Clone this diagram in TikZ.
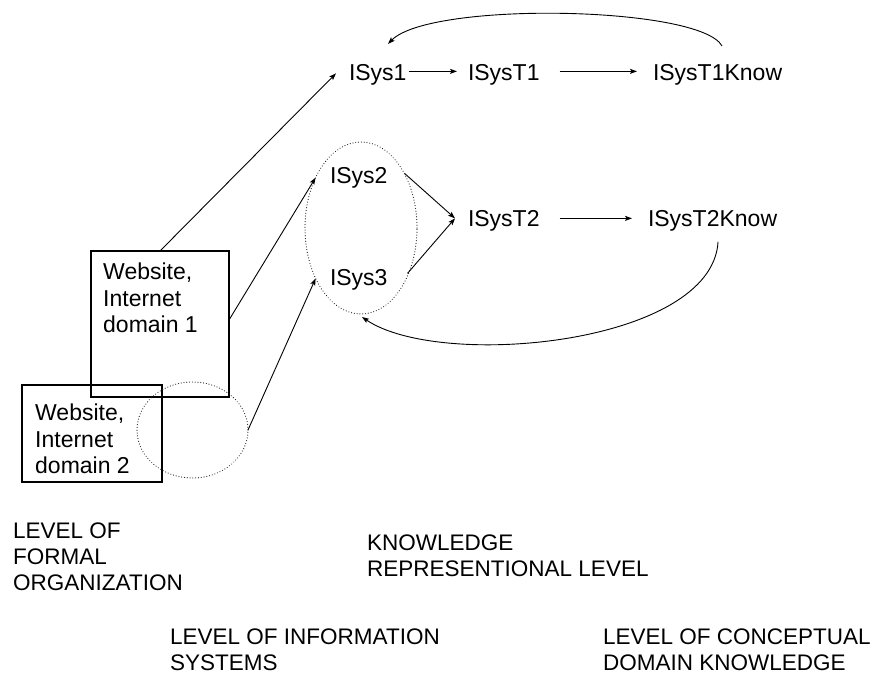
\documentclass[tikz,border=0pt]{standalone}
\usepackage{fontspec}
\setmainfont{Liberation Sans}
\usetikzlibrary{arrows.meta,calc,shapes.geometric}
\begin{document}
\begin{tikzpicture}[x=1pt,y=-1pt,
  lbl/.style={inner sep=0pt, outer sep=0pt, anchor=base west, font=\fontsize{23}{27}\selectfont},
  boxtext/.style={inner sep=0pt, anchor=north west, align=left, font=\fontsize{23}{26.5}\selectfont},
  blk/.style={inner sep=0pt, anchor=north west, align=left, font=\fontsize{22.5}{26}\selectfont},
  conn/.style={line width=0.9pt, -{Stealth[length=7pt,width=5pt,inset=1.5pt]}},
  box/.style={draw, line width=1.1pt, inner sep=0pt, outer sep=0pt, anchor=north west},
  grp/.style={draw=black!85, ellipse, inner sep=0pt, outer sep=0pt, line width=1.2pt, dash pattern=on 0.01pt off 2.8pt, line cap=round}
]
\useasboundingbox (0,0) rectangle (882,677);

% boxes
\node[box, minimum width=138pt, minimum height=146pt] (web1) at (91,251) {};
\node[box, minimum width=140pt, minimum height=97pt] (web2) at (22,385) {};
\node[boxtext] (web1t) at (103,263) {Website,\\Internet\\domain 1};
\node[boxtext] (web2t) at (35,404) {Website,\\Internet\\domain 2};

% dotted groups
\node[grp, minimum width=112pt, minimum height=172pt] (grpA) at (361,228) {};
\node[grp, minimum width=111pt, minimum height=96pt] (grpB) at (192.5,430) {};

% labels
\node[lbl] (isys1) at (349,80) {ISys1};
\node[lbl] (isyst1) at (468,80) {ISysT1};
\node[lbl] (isyst1know) at (653,80) {ISysT1Know};
\node[lbl] (isys2) at (330,183) {ISys2};
\node[lbl] (isys3) at (330,285) {ISys3};
\node[lbl] (isyst2) at (468,226) {ISysT2};
\node[lbl] (isyst2know) at (648,226) {ISysT2Know};

% level texts
\node[blk] (lvlformal) at (13,523) {LEVEL OF\\FORMAL\\ORGANIZATION};
\node[blk] (lvlknow) at (367,535) {KNOWLEDGE\\REPRESENTIONAL LEVEL};
\node[blk] (lvlinfo) at (170,629) {LEVEL OF INFORMATION\\SYSTEMS};
\node[blk] (lvlconc) at (603,629) {LEVEL OF CONCEPTUAL\\DOMAIN KNOWLEDGE};

% connectors
\draw[conn] (web1.north) -- ($(isys1.west)+(-13,-1)$);
\draw[conn] ($(web1.east)+(0,-4)$) -- (grpA.132);
\draw[conn] (grpB.east) -- (grpA.228.5);
\draw[conn] ($(isys1.east)+(2,-3)$) -- ($(isyst1.west)+(-11,-3)$);
\draw[conn] ($(isyst1.east)+(20,-3)$) -- ($(isyst1know.west)+(-16,-3)$);
\draw[conn] ($(isys2.east)+(17,-4)$) -- ($(isyst2.west)+(-13,-2)$);
\draw[conn] ($(isys3.east)+(20,-6)$) -- ($(isyst2.west)+(-13,-2)$);
\draw[conn] ($(isyst2.east)+(20,-2)$) -- ($(isyst2know.west)+(-16,-2)$);
\draw[conn] ($(isyst1know.north west)+(69,-18)$) .. controls +(-22,-40) and +(42,-43) .. ($(isys1.north west)+(39,-20)$);
\draw[conn] ($(isyst2know.south)+(5.5,11)$) .. controls +(-6,103) and +(78,53) .. ($(grpA.south)+(1,3)$);
\end{tikzpicture}
\end{document}
